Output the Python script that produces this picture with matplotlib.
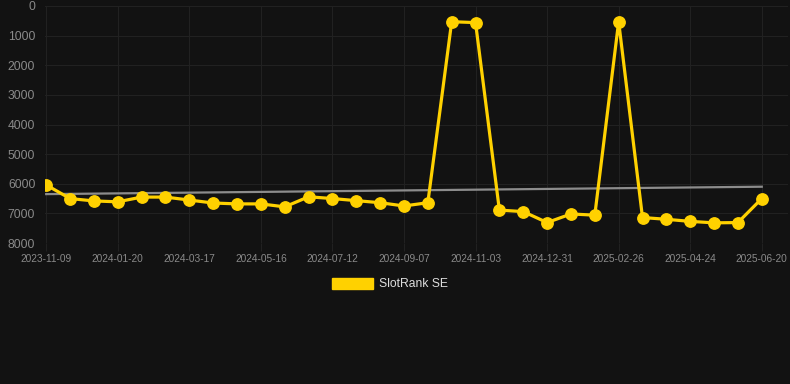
import numpy as np
import matplotlib.pyplot as plt
from matplotlib.patches import Patch

# data (rank, lower is better -> inverted axis)
ranks = [6040, 6500, 6580, 6610, 6450, 6450, 6550, 6650, 6680, 6680,
         6780, 6440, 6500, 6570, 6640, 6750, 6640, 530, 560, 6890,
         6940, 7310, 7020, 7060, 530, 7140, 7200, 7270, 7320, 7310, 6500]
tick_labels = ['2023-11-09', '2024-01-20', '2024-03-17', '2024-05-16',
               '2024-07-12', '2024-09-07', '2024-11-03', '2024-12-31',
               '2025-02-26', '2025-04-24', '2025-06-20']
trend = [6350, 6100]  # start / end of the grey trend line
series_name = 'SlotRank SE'

bg = '#121212'
gold = '#FFD100'
grid = '#212121'
txt = '#8a8a8a'

plt.rcParams['font.family'] = ['Liberation Sans', 'DejaVu Sans']

fig = plt.figure(figsize=(7.9, 3.84), dpi=100, facecolor=bg)
ax = fig.add_axes([45 / 790, 1 - 243 / 384, 743 / 790, 237 / 384])
ax.set_facecolor(bg)

x = np.arange(len(ranks))
ax.plot([x[0], x[-1]], trend, color='#8c8c8c', lw=1.6, zorder=2)
ax.plot(x, ranks, color=gold, lw=2.3, marker='o', ms=8.2,
        markerfacecolor=gold, markeredgecolor=gold, zorder=3)

ax.set_ylim(8000, 0)
ax.set_yticks(range(0, 8001, 1000))
ax.set_xlim(-0.05, 31.1)
ax.set_xticks(x[::3])
ax.set_xticklabels(tick_labels)

ax.grid(True, color=grid, lw=0.8)
ax.set_axisbelow(True)
for s in ax.spines.values():
    s.set_visible(False)
ax.tick_params(axis='y', length=0, labelsize=8.7, labelcolor=txt, pad=7)
ax.tick_params(axis='x', length=6, color=grid, labelsize=7.3, labelcolor=txt, pad=2)

fig.legend(handles=[Patch(facecolor=gold, edgecolor=gold)], labels=[series_name],
           loc='center', bbox_to_anchor=(390 / 790, 1 - 284 / 384),
           frameon=False, fontsize=8.7, labelcolor='#dddddd',
           handlelength=3.4, handleheight=1.0, handletextpad=0.5)

fig.savefig('out.png', dpi=100, facecolor=bg)
